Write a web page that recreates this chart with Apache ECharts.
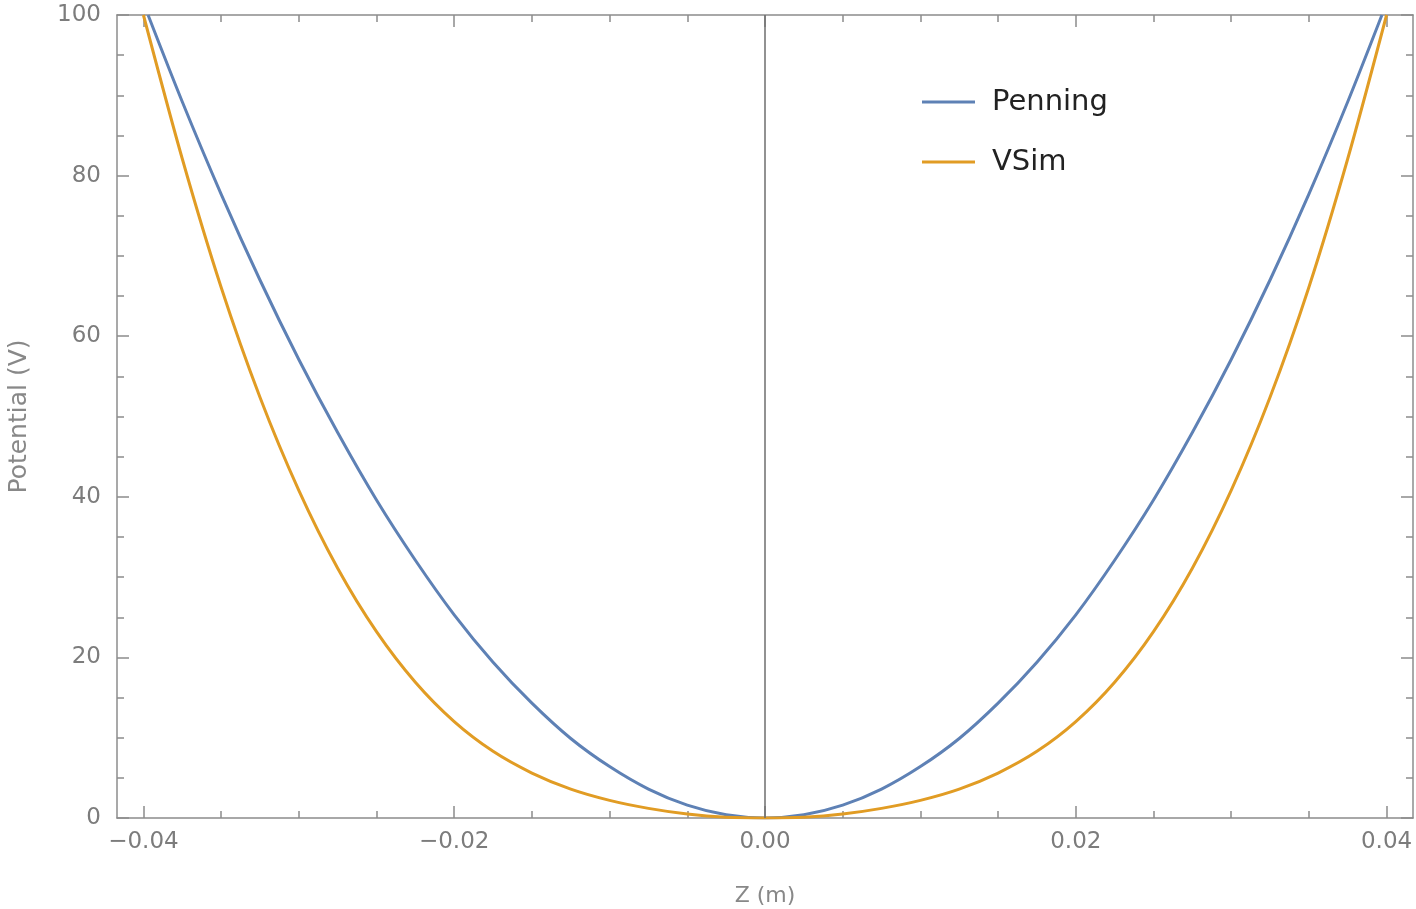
<!DOCTYPE html>
<html>
<head>
<meta charset="utf-8">
<title>Potential vs Z</title>
<script src="https://cdn.jsdelivr.net/npm/echarts@6/dist/echarts.min.js"></script>
<style>
  html, body { margin: 0; padding: 0; background: #fff; }
  #chart { width: 1416px; height: 909px; }
</style>
</head>
<body>
<div id="chart"></div>
<script>
// values
const zPenning = [-0.0397, -0.0375, -0.035, -0.0325, -0.03, -0.0275, -0.025, -0.0225, -0.02, -0.0175, -0.015, -0.0125, -0.01, -0.0075, -0.005, -0.0025, 0,
    0.0025, 0.005, 0.0075, 0.01, 0.0125, 0.015, 0.0175, 0.02, 0.0225, 0.025, 0.0275, 0.03, 0.0325, 0.035, 0.0375, 0.0397];
const vPenning = [100, 89.2, 77.7, 67.0, 57.1, 48.0, 39.6, 32.1, 25.3, 19.4, 14.3, 9.9, 6.4, 3.6, 1.6, 0.4, 0,
    0.4, 1.6, 3.6, 6.4, 9.9, 14.3, 19.4, 25.3, 32.1, 39.6, 48.0, 57.1, 67.0, 77.7, 89.2, 100];

const zVSim = [-0.04, -0.0375, -0.035, -0.0325, -0.03, -0.0275, -0.025, -0.0225, -0.02, -0.0175, -0.015, -0.0125, -0.01, -0.0075, -0.005, -0.0025, 0,
    0.0025, 0.005, 0.0075, 0.01, 0.0125, 0.015, 0.0175, 0.02, 0.0225, 0.025, 0.0275, 0.03, 0.0325, 0.035, 0.0375, 0.04];
const vVSim = [100, 82.1, 66.1, 52.4, 40.8, 31.1, 23.2, 16.9, 12.0, 8.3, 5.6, 3.6, 2.2, 1.2, 0.5, 0.1, 0,
    0.1, 0.5, 1.2, 2.2, 3.6, 5.6, 8.3, 12.0, 16.9, 23.2, 31.1, 40.8, 52.4, 66.1, 82.1, 100];

const xMajorTicks = [-0.04, -0.02, 0, 0.02, 0.04];
const xMinorTicks = [-0.035, -0.03, -0.025, -0.015, -0.01, -0.005, 0.005, 0.01, 0.015, 0.025, 0.03, 0.035];
const xRange = [-0.0417, 0.0417];

const frameColor = '#8c8c8c';
const labelColor = '#7c7c7c';
const font = 'DejaVu Sans';

function pairs(xs, ys) {
    return xs.map((x, i) => [x, ys[i]]);
}

function fmtX(v) {
    return (v < 0 ? '\u2212' : '') + Math.abs(v).toFixed(2);
}

// one x axis per side for long ticks, one for short ticks
function xAxisPart(position, ticks, len, withLine, withLabels) {
    return {
        type: 'value',
        position: position,
        min: xRange[0],
        max: xRange[1],
        splitLine: {show: false},
        axisLine: {show: withLine, onZero: false, lineStyle: {color: frameColor, width: 1.5}},
        axisTick: {
            show: true, inside: true, length: len, customValues: ticks,
            lineStyle: {color: frameColor, width: 1.5}
        },
        axisLabel: withLabels ? {
            show: true, customValues: ticks, margin: 13,
            formatter: fmtX, color: labelColor, fontFamily: font, fontSize: 23
        } : {show: false}
    };
}

function yAxisPart(position, withLabels) {
    return {
        type: 'value',
        position: position,
        min: 0,
        max: 100,
        interval: 20,
        splitLine: {show: false},
        axisLine: {show: true, onZero: false, lineStyle: {color: frameColor, width: 1.5}},
        axisTick: {show: true, inside: true, length: 12, lineStyle: {color: frameColor, width: 1.5}},
        minorTick: {show: true, splitNumber: 4, length: 7, lineStyle: {color: frameColor, width: 1.5}},
        axisLabel: withLabels ? {
            show: true, margin: 16, color: labelColor, fontFamily: font, fontSize: 23
        } : {show: false}
    };
}

const chart = echarts.init(document.getElementById('chart'));

const xBottom = xAxisPart('bottom', xMajorTicks, 12, true, true);
xBottom.name = 'Z (m)';
xBottom.nameLocation = 'middle';
xBottom.nameGap = 67;
xBottom.nameTextStyle = {color: '#888', fontFamily: font, fontSize: 22};

const yLeft = yAxisPart('left', true);
yLeft.name = 'Potential (V)';
yLeft.nameLocation = 'middle';
yLeft.nameGap = 85;
yLeft.nameTextStyle = {color: '#888', fontFamily: font, fontSize: 25};

const option = {
    animation: false,
    backgroundColor: '#fff',
    grid: {left: 117, right: 3, top: 15, bottom: 91, outerBoundsMode: 'none'},
    legend: {
        orient: 'vertical',
        left: 922,
        top: 86,
        padding: 0,
        icon: 'rect',
        itemWidth: 53,
        itemHeight: 3,
        itemGap: 28,
        textStyle: {color: '#222', fontFamily: font, fontSize: 29, lineHeight: 32, padding: [0, 0, 0, 12]},
        data: ['Penning', 'VSim']
    },
    xAxis: [
        xBottom,
        xAxisPart('bottom', xMinorTicks, 7, false, false),
        xAxisPart('top', xMajorTicks, 12, true, false),
        xAxisPart('top', xMinorTicks, 7, false, false)
    ],
    yAxis: [
        yLeft,
        yAxisPart('right', false)
    ],
    series: [
        {
            name: 'Penning',
            type: 'line',
            xAxisIndex: 0,
            yAxisIndex: 0,
            data: pairs(zPenning, vPenning),
            showSymbol: false,
            smooth: 0.3,
            color: '#5e81b5',
            lineStyle: {width: 3},
            z: 3,
            markLine: {
                silent: true,
                symbol: ['none', 'none'],
                label: {show: false},
                lineStyle: {color: '#6e6e6e', width: 1.5, type: 'solid'},
                data: [{xAxis: 0}]
            }
        },
        {
            name: 'VSim',
            type: 'line',
            xAxisIndex: 0,
            yAxisIndex: 0,
            data: pairs(zVSim, vVSim),
            showSymbol: false,
            smooth: 0.3,
            color: '#e19c24',
            lineStyle: {width: 3},
            z: 3
        }
    ]
};

chart.setOption(option);
</script>
</body>
</html>
